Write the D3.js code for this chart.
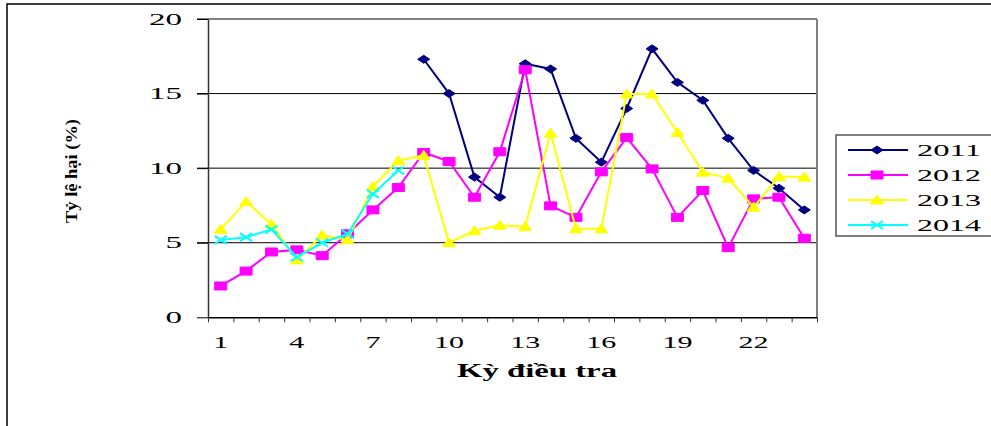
<!DOCTYPE html>
<html>
<head>
<meta charset="utf-8">
<script src="https://cdn.jsdelivr.net/npm/d3@7"></script>
<style>
  body { margin: 0; background: #fff; }
  svg { display: block; }
  text { font-family: "Liberation Serif", "Times New Roman", serif; fill: #000; }
</style>
</head>
<body>
<svg id="chart"></svg>
<script>
// Data
const periods = d3.range(1, 25);
const xLabels = [1, 4, 7, 10, 13, 16, 19, 22];
const yTicks = [0, 5, 10, 15, 20];

const s2011 = [null, null, null, null, null, null, null, null,
  17.3, 15.0, 9.4, 8.05, 17.0, 16.65, 12.0, 10.4, 14.0, 18.0, 15.75, 14.55, 12.0, 9.85, 8.65, 7.2];
const s2012 = [2.1, 3.1, 4.38, 4.52, 4.13, 5.6, 7.2, 8.7, 11.05, 10.45, 8.05, 11.1,
  16.6, 7.47, 6.7, 9.75, 12.05, 9.95, 6.7, 8.5, 4.67, 7.94, 8.05, 5.3];
const s2013 = [5.9, 7.76, 6.24, 3.85, 5.52, 5.19, 8.77, 10.5, 10.85, 5.0, 5.8, 6.17,
  6.08, 12.35, 5.93, 5.93, 14.97, 14.97, 12.39, 9.73, 9.33, 7.38, 9.44, 9.4];
const s2014 = [5.19, 5.37, 5.9, 4.03, 5.0, 5.59, 8.28, 9.84,
  null, null, null, null, null, null, null, null, null, null, null, null, null, null, null, null];

const series = [
  { name: "2011", values: s2011, color: "#000080", marker: "diamond" },
  { name: "2012", values: s2012, color: "#FF00FF", marker: "square" },
  { name: "2013", values: s2013, color: "#FFFF00", marker: "triangle" },
  { name: "2014", values: s2014, color: "#00FFFF", marker: "cross" }
];

const width = 991, height = 426;
const plot = { left: 208, right: 817, top: 19, bottom: 317.3 };

const svg = d3.select("#chart")
    .attr("width", width)
    .attr("height", height);

// Outer frame (runs off the right and bottom edges)
svg.append("rect")
    .attr("x", 7).attr("y", 4)
    .attr("width", 1000).attr("height", 500)
    .attr("fill", "none")
    .attr("stroke", "#000")
    .attr("stroke-width", 1.5);

// Scales
const x = d3.scaleBand()
    .domain(periods)
    .range([plot.left, plot.right]);
const xEdge = d3.scaleLinear()
    .domain([0, 24])
    .range([plot.left, plot.right]);
const y = d3.scaleLinear()
    .domain([0, 20])
    .range([plot.bottom, plot.top]);

// Gridlines
svg.append("g")
    .selectAll("line")
    .data(yTicks.filter(d => d > 0 && d < 20))
    .enter().append("line")
    .attr("x1", plot.left - 11)
    .attr("x2", plot.right)
    .attr("y1", d => y(d))
    .attr("y2", d => y(d))
    .attr("stroke", "#000")
    .attr("stroke-width", 1);

// Plot area border top / right (gray)
svg.append("line")
    .attr("x1", plot.left - 11).attr("x2", plot.right)
    .attr("y1", y(20)).attr("y2", y(20))
    .attr("stroke", "#808080").attr("stroke-width", 2);
svg.append("line")
    .attr("x1", plot.right).attr("x2", plot.right)
    .attr("y1", y(20)).attr("y2", plot.bottom)
    .attr("stroke", "#808080").attr("stroke-width", 2);

// Y axis
const yAxis = svg.append("g")
    .attr("transform", `translate(${plot.left},0)`)
    .call(d3.axisLeft(y).tickValues(yTicks).tickSize(11).tickPadding(15).tickSizeOuter(0));
yAxis.select(".domain").attr("stroke", "#333").attr("stroke-width", 1.5);
yAxis.selectAll(".tick line").attr("stroke", "#000");
yAxis.selectAll(".tick text")
    .attr("font-family", "Liberation Serif")
    .attr("font-size", 16)
    .attr("textLength", d => String(d).length * 16.5)
    .attr("lengthAdjust", "spacingAndGlyphs");

// X axis (ticks on period boundaries)
const xAxis = svg.append("g")
    .attr("transform", `translate(0,${plot.bottom})`)
    .call(d3.axisBottom(xEdge).tickValues(d3.range(0, 25)).tickSize(5).tickFormat("").tickSizeOuter(0));
xAxis.select(".domain").attr("stroke", "#000").attr("stroke-width", 1.5);
xAxis.selectAll(".tick line").attr("stroke", "#333");

// X tick labels at period centres
svg.append("g")
    .selectAll("text")
    .data(xLabels)
    .enter().append("text")
    .attr("x", d => x(d) + x.bandwidth() / 2)
    .attr("y", 348)
    .attr("text-anchor", "middle")
    .attr("font-size", 16)
    .attr("textLength", d => String(d).length * 15)
    .attr("lengthAdjust", "spacingAndGlyphs")
    .text(d => d);

// Axis titles
svg.append("text")
    .attr("x", 537)
    .attr("y", 377)
    .attr("text-anchor", "middle")
    .attr("font-size", 18)
    .attr("font-weight", "bold")
    .attr("textLength", 160)
    .attr("lengthAdjust", "spacingAndGlyphs")
    .text("Kỳ điều tra");

// y title is squeezed in the original, letters overlap
svg.append("text")
    .attr("transform", "translate(77,171) rotate(-90)")
    .attr("text-anchor", "middle")
    .attr("font-size", 17)
    .attr("font-weight", "bold")
    .attr("textLength", 104)
    .attr("lengthAdjust", "spacingAndGlyphs")
    .text("Tỷ lệ hại (%)");

// Marker shapes (wider than tall, as in the original)
function markerPath(type) {
    switch (type) {
        case "diamond": return "M-6,0L0,-4L6,0L0,4Z";
        case "square": return "M-6,-4H6V4H-6Z";
        case "triangle": return "M-6.5,4L0,-5L6.5,4Z";
        case "cross": return "M-6,-4L6,4M-6,4L6,-4";
    }
}

const line = d3.line()
    .defined(d => d.v != null)
    .x(d => x(d.p) + x.bandwidth() / 2)
    .y(d => y(d.v));

series.forEach(s => {
    const pts = periods.map((p, i) => ({ p: p, v: s.values[i] }));
    const g = svg.append("g");
    g.append("path")
        .datum(pts)
        .attr("d", line)
        .attr("fill", "none")
        .attr("stroke", s.color)
        .attr("stroke-width", 2);
    g.selectAll("path.mk")
        .data(pts.filter(d => d.v != null))
        .enter().append("path")
        .attr("class", "mk")
        .attr("transform", d => `translate(${x(d.p) + x.bandwidth() / 2},${y(d.v)})`)
        .attr("d", markerPath(s.marker))
        .attr("fill", s.marker === "cross" ? "none" : s.color)
        .attr("stroke", s.color)
        .attr("stroke-width", s.marker === "cross" ? 2 : 1);
});

// Legend
const legend = svg.append("g");
legend.append("rect")
    .attr("x", 836).attr("y", 135)
    .attr("width", 200).attr("height", 101)
    .attr("fill", "#fff")
    .attr("stroke", "#555")
    .attr("stroke-width", 1.5);

const legendItems = legend.selectAll(".legend-item")
    .data(series)
    .enter().append("g")
    .attr("class", "legend-item")
    .attr("transform", (d, i) => `translate(0, ${150 + i * 25})`);

legendItems.append("line")
    .attr("x1", 848).attr("x2", 908)
    .attr("stroke", d => d.color)
    .attr("stroke-width", 2);

legendItems.append("path")
    .attr("transform", "translate(877,0)")
    .attr("d", d => markerPath(d.marker))
    .attr("fill", d => d.marker === "cross" ? "none" : d.color)
    .attr("stroke", d => d.color)
    .attr("stroke-width", d => d.marker === "cross" ? 2 : 1);

legendItems.append("text")
    .attr("x", 917)
    .attr("y", 5.5)
    .attr("font-size", 17)
    .attr("textLength", 64)
    .attr("lengthAdjust", "spacingAndGlyphs")
    .text(d => d.name);
</script>
</body>
</html>
